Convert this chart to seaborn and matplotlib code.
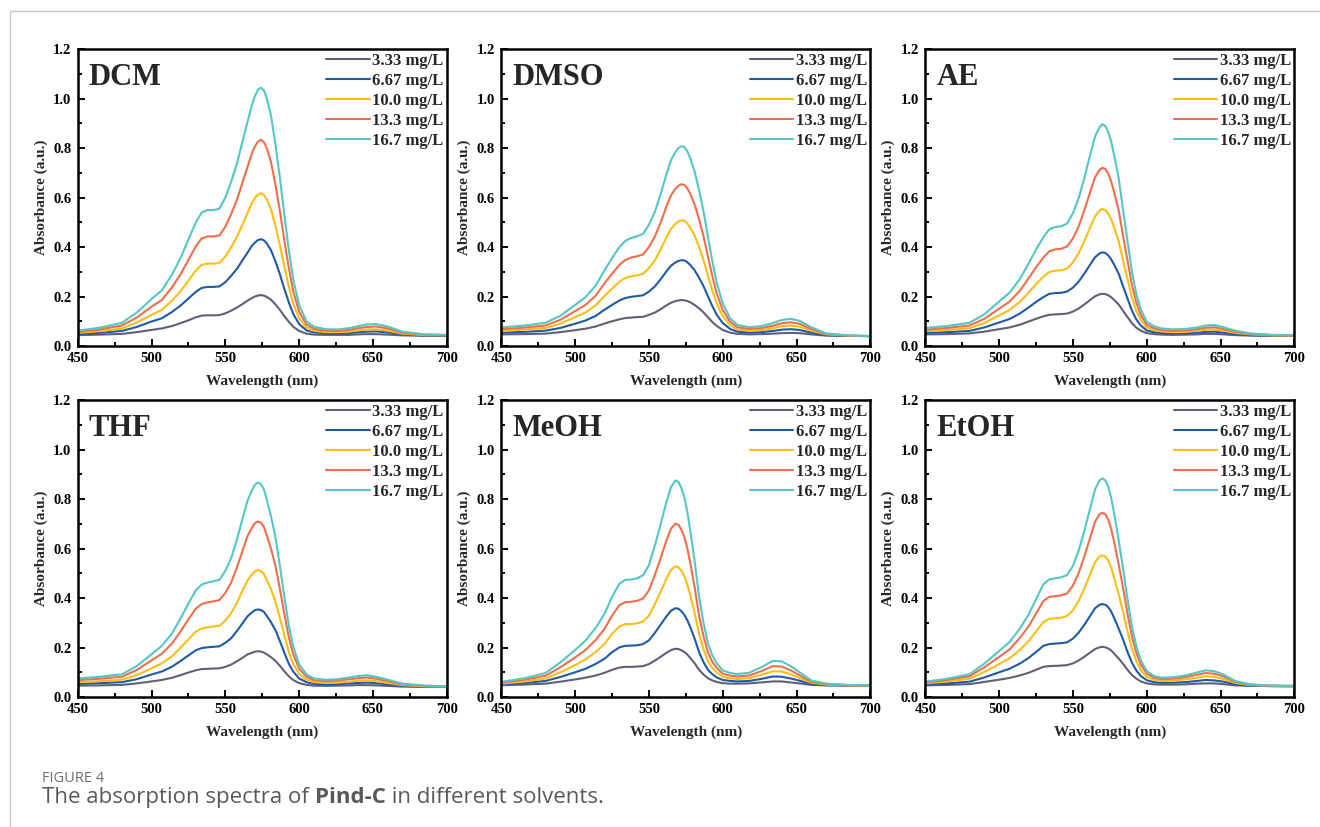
import numpy as np
import pandas as pd
import matplotlib
matplotlib.use("Agg")
import matplotlib.pyplot as plt
from matplotlib.lines import Line2D
from matplotlib.ticker import MultipleLocator, FormatStrFormatter
import seaborn as sns

# Sampled wavelengths (nm), shared by every spectrum
wavelength = [450, 465, 480, 490, 500, 507, 514, 520, 525, 530, 534, 538, 542, 546, 550,
              554, 558, 562, 565, 568, 570, 572, 574, 576, 578, 581, 584, 587, 590, 593,
              596, 600, 605, 610, 618, 626, 634, 640, 646, 652, 660, 670, 685, 700]

concentrations = ["3.33 mg/L", "6.67 mg/L", "10.0 mg/L", "13.3 mg/L", "16.7 mg/L"]
line_colors = ["#5d6179", "#1f5aa8", "#fbbd16", "#f26d4b", "#52c7c6"]

# Absorbance per solvent, one row per concentration (low -> high)
dcm = [
    [0.044, 0.046, 0.049, 0.056, 0.065, 0.071, 0.081, 0.093, 0.104, 0.116, 0.123, 0.124, 0.124, 0.125, 0.132,
     0.143, 0.156, 0.171, 0.183, 0.194, 0.200, 0.204, 0.206, 0.204, 0.199, 0.187, 0.168, 0.146, 0.121, 0.098,
     0.078, 0.061, 0.050, 0.046, 0.045, 0.045, 0.045, 0.047, 0.048, 0.048, 0.046, 0.043, 0.041, 0.041],
    [0.049, 0.053, 0.061, 0.077, 0.099, 0.112, 0.138, 0.165, 0.192, 0.219, 0.235, 0.239, 0.239, 0.241, 0.258,
     0.284, 0.313, 0.350, 0.377, 0.405, 0.418, 0.428, 0.432, 0.428, 0.416, 0.387, 0.342, 0.290, 0.231, 0.177,
     0.130, 0.089, 0.063, 0.055, 0.051, 0.051, 0.052, 0.056, 0.058, 0.059, 0.055, 0.047, 0.043, 0.042],
    [0.053, 0.060, 0.071, 0.095, 0.126, 0.146, 0.184, 0.224, 0.264, 0.305, 0.328, 0.333, 0.333, 0.336, 0.362,
     0.399, 0.443, 0.497, 0.537, 0.578, 0.598, 0.612, 0.618, 0.612, 0.595, 0.552, 0.486, 0.408, 0.322, 0.241,
     0.172, 0.112, 0.075, 0.062, 0.056, 0.056, 0.058, 0.063, 0.067, 0.068, 0.062, 0.050, 0.044, 0.043],
    [0.057, 0.067, 0.083, 0.115, 0.159, 0.186, 0.238, 0.293, 0.348, 0.403, 0.435, 0.443, 0.443, 0.447, 0.482,
     0.534, 0.593, 0.668, 0.723, 0.779, 0.806, 0.826, 0.834, 0.826, 0.802, 0.743, 0.652, 0.546, 0.427, 0.317,
     0.222, 0.139, 0.087, 0.070, 0.062, 0.061, 0.065, 0.072, 0.077, 0.079, 0.071, 0.054, 0.046, 0.044],
    [0.062, 0.074, 0.094, 0.135, 0.190, 0.225, 0.290, 0.360, 0.430, 0.500, 0.540, 0.550, 0.550, 0.555, 0.600,
     0.665, 0.740, 0.835, 0.905, 0.975, 1.010, 1.035, 1.045, 1.035, 1.005, 0.930, 0.815, 0.680, 0.530, 0.390,
     0.270, 0.165, 0.100, 0.078, 0.068, 0.067, 0.072, 0.080, 0.087, 0.089, 0.079, 0.058, 0.047, 0.045],
]

dmso = [
    [0.047, 0.048, 0.050, 0.056, 0.064, 0.070, 0.079, 0.091, 0.100, 0.108, 0.113, 0.115, 0.117, 0.118, 0.126,
     0.135, 0.149, 0.165, 0.175, 0.182, 0.184, 0.186, 0.185, 0.182, 0.177, 0.166, 0.152, 0.136, 0.116, 0.097,
     0.081, 0.065, 0.054, 0.049, 0.047, 0.048, 0.050, 0.052, 0.053, 0.052, 0.047, 0.042, 0.041, 0.040],
    [0.054, 0.057, 0.062, 0.073, 0.090, 0.103, 0.122, 0.147, 0.166, 0.184, 0.194, 0.199, 0.202, 0.205, 0.220,
     0.241, 0.270, 0.303, 0.325, 0.338, 0.344, 0.347, 0.346, 0.339, 0.328, 0.306, 0.276, 0.242, 0.201, 0.161,
     0.126, 0.093, 0.069, 0.058, 0.054, 0.056, 0.061, 0.066, 0.068, 0.065, 0.054, 0.044, 0.041, 0.040],
    [0.061, 0.066, 0.073, 0.090, 0.117, 0.136, 0.165, 0.203, 0.232, 0.260, 0.275, 0.282, 0.286, 0.292, 0.315,
     0.346, 0.391, 0.441, 0.474, 0.494, 0.504, 0.508, 0.507, 0.496, 0.479, 0.446, 0.400, 0.348, 0.285, 0.224,
     0.171, 0.121, 0.084, 0.067, 0.062, 0.064, 0.072, 0.080, 0.083, 0.078, 0.062, 0.047, 0.042, 0.040],
    [0.068, 0.074, 0.083, 0.106, 0.141, 0.166, 0.204, 0.254, 0.292, 0.328, 0.348, 0.358, 0.363, 0.370, 0.400,
     0.442, 0.500, 0.566, 0.610, 0.636, 0.648, 0.654, 0.652, 0.638, 0.616, 0.572, 0.512, 0.444, 0.362, 0.282,
     0.212, 0.146, 0.098, 0.076, 0.069, 0.072, 0.082, 0.092, 0.096, 0.090, 0.069, 0.049, 0.042, 0.040],
    [0.075, 0.082, 0.094, 0.122, 0.166, 0.197, 0.245, 0.307, 0.355, 0.400, 0.425, 0.437, 0.444, 0.453, 0.490,
     0.542, 0.615, 0.697, 0.752, 0.785, 0.800, 0.808, 0.805, 0.788, 0.760, 0.705, 0.630, 0.545, 0.442, 0.342,
     0.255, 0.173, 0.112, 0.085, 0.076, 0.080, 0.093, 0.105, 0.110, 0.102, 0.076, 0.051, 0.043, 0.040],
]

ae = [
    [0.047, 0.048, 0.051, 0.058, 0.068, 0.075, 0.086, 0.099, 0.110, 0.120, 0.126, 0.128, 0.129, 0.131, 0.139,
     0.152, 0.169, 0.188, 0.201, 0.209, 0.211, 0.210, 0.205, 0.197, 0.186, 0.168, 0.142, 0.117, 0.092, 0.074,
     0.062, 0.052, 0.048, 0.046, 0.045, 0.046, 0.047, 0.049, 0.049, 0.047, 0.044, 0.042, 0.041, 0.041],
    [0.053, 0.056, 0.061, 0.075, 0.095, 0.109, 0.131, 0.156, 0.178, 0.198, 0.211, 0.214, 0.215, 0.220, 0.236,
     0.261, 0.295, 0.332, 0.359, 0.374, 0.379, 0.376, 0.366, 0.350, 0.328, 0.293, 0.241, 0.192, 0.143, 0.107,
     0.083, 0.063, 0.056, 0.052, 0.051, 0.051, 0.054, 0.057, 0.058, 0.054, 0.049, 0.044, 0.042, 0.041],
    [0.060, 0.065, 0.072, 0.093, 0.124, 0.145, 0.178, 0.216, 0.250, 0.280, 0.299, 0.305, 0.306, 0.313, 0.338,
     0.376, 0.427, 0.484, 0.524, 0.547, 0.554, 0.550, 0.535, 0.511, 0.478, 0.424, 0.346, 0.271, 0.196, 0.142,
     0.105, 0.075, 0.064, 0.059, 0.056, 0.057, 0.061, 0.066, 0.067, 0.062, 0.053, 0.047, 0.043, 0.042],
    [0.066, 0.073, 0.083, 0.110, 0.151, 0.179, 0.223, 0.274, 0.318, 0.358, 0.383, 0.391, 0.393, 0.402, 0.435,
     0.485, 0.553, 0.628, 0.682, 0.712, 0.721, 0.716, 0.696, 0.664, 0.620, 0.549, 0.445, 0.346, 0.247, 0.175,
     0.126, 0.086, 0.072, 0.065, 0.061, 0.063, 0.068, 0.074, 0.076, 0.069, 0.057, 0.049, 0.044, 0.042],
    [0.073, 0.081, 0.094, 0.128, 0.180, 0.215, 0.270, 0.334, 0.390, 0.440, 0.472, 0.481, 0.484, 0.495, 0.537,
     0.600, 0.685, 0.780, 0.847, 0.885, 0.897, 0.890, 0.865, 0.825, 0.770, 0.680, 0.550, 0.425, 0.300, 0.210,
     0.148, 0.098, 0.080, 0.071, 0.067, 0.069, 0.075, 0.083, 0.085, 0.076, 0.062, 0.051, 0.045, 0.043],
]

thf = [
    [0.046, 0.047, 0.049, 0.055, 0.063, 0.069, 0.078, 0.089, 0.099, 0.108, 0.113, 0.114, 0.115, 0.116, 0.122,
     0.131, 0.145, 0.160, 0.172, 0.179, 0.183, 0.185, 0.184, 0.180, 0.173, 0.161, 0.146, 0.126, 0.104, 0.084,
     0.069, 0.056, 0.049, 0.046, 0.045, 0.046, 0.047, 0.048, 0.048, 0.047, 0.045, 0.042, 0.041, 0.041],
    [0.053, 0.056, 0.060, 0.072, 0.091, 0.103, 0.123, 0.147, 0.168, 0.189, 0.198, 0.201, 0.203, 0.205, 0.219,
     0.238, 0.268, 0.301, 0.326, 0.342, 0.351, 0.354, 0.352, 0.345, 0.329, 0.302, 0.270, 0.226, 0.179, 0.135,
     0.103, 0.075, 0.060, 0.053, 0.051, 0.052, 0.055, 0.057, 0.058, 0.056, 0.051, 0.045, 0.042, 0.042],
    [0.060, 0.064, 0.070, 0.089, 0.116, 0.136, 0.165, 0.201, 0.233, 0.264, 0.277, 0.282, 0.285, 0.288, 0.309,
     0.339, 0.383, 0.434, 0.471, 0.495, 0.508, 0.513, 0.510, 0.499, 0.475, 0.435, 0.386, 0.320, 0.249, 0.183,
     0.134, 0.093, 0.070, 0.060, 0.057, 0.058, 0.062, 0.066, 0.067, 0.064, 0.057, 0.048, 0.043, 0.042],
    [0.068, 0.074, 0.082, 0.109, 0.148, 0.175, 0.217, 0.268, 0.314, 0.357, 0.376, 0.383, 0.387, 0.392, 0.421,
     0.463, 0.526, 0.597, 0.650, 0.684, 0.703, 0.710, 0.706, 0.690, 0.656, 0.599, 0.530, 0.437, 0.336, 0.243,
     0.174, 0.115, 0.082, 0.068, 0.064, 0.066, 0.072, 0.076, 0.079, 0.074, 0.064, 0.051, 0.045, 0.043],
    [0.075, 0.082, 0.092, 0.125, 0.173, 0.207, 0.258, 0.321, 0.378, 0.431, 0.455, 0.463, 0.468, 0.474, 0.510,
     0.562, 0.640, 0.728, 0.793, 0.835, 0.858, 0.867, 0.862, 0.842, 0.800, 0.730, 0.645, 0.530, 0.405, 0.290,
     0.205, 0.132, 0.092, 0.075, 0.070, 0.072, 0.079, 0.085, 0.088, 0.082, 0.070, 0.054, 0.046, 0.044],
]

meoh = [
    [0.048, 0.050, 0.054, 0.062, 0.071, 0.078, 0.087, 0.098, 0.110, 0.119, 0.122, 0.122, 0.123, 0.125, 0.133,
     0.147, 0.163, 0.179, 0.190, 0.195, 0.194, 0.189, 0.182, 0.172, 0.158, 0.136, 0.110, 0.091, 0.076, 0.067,
     0.061, 0.056, 0.054, 0.054, 0.055, 0.059, 0.063, 0.063, 0.059, 0.055, 0.049, 0.047, 0.046, 0.045],
    [0.051, 0.056, 0.065, 0.081, 0.100, 0.114, 0.134, 0.155, 0.181, 0.201, 0.207, 0.208, 0.209, 0.214, 0.229,
     0.259, 0.293, 0.327, 0.349, 0.359, 0.357, 0.347, 0.333, 0.311, 0.283, 0.236, 0.181, 0.141, 0.110, 0.092,
     0.079, 0.069, 0.065, 0.063, 0.065, 0.073, 0.083, 0.082, 0.075, 0.066, 0.053, 0.048, 0.047, 0.046],
    [0.054, 0.062, 0.075, 0.100, 0.129, 0.152, 0.182, 0.215, 0.255, 0.285, 0.295, 0.295, 0.298, 0.305, 0.329,
     0.375, 0.426, 0.480, 0.514, 0.529, 0.525, 0.511, 0.489, 0.455, 0.412, 0.339, 0.255, 0.193, 0.145, 0.117,
     0.098, 0.082, 0.075, 0.073, 0.076, 0.089, 0.104, 0.103, 0.092, 0.077, 0.058, 0.050, 0.047, 0.046],
    [0.058, 0.069, 0.086, 0.120, 0.160, 0.190, 0.231, 0.276, 0.329, 0.371, 0.384, 0.385, 0.389, 0.398, 0.431,
     0.493, 0.562, 0.635, 0.681, 0.701, 0.697, 0.677, 0.648, 0.602, 0.543, 0.444, 0.329, 0.246, 0.180, 0.142,
     0.117, 0.095, 0.086, 0.083, 0.087, 0.104, 0.125, 0.123, 0.108, 0.088, 0.062, 0.052, 0.048, 0.047],
    [0.061, 0.075, 0.097, 0.140, 0.190, 0.228, 0.280, 0.337, 0.405, 0.458, 0.474, 0.475, 0.480, 0.492, 0.533,
     0.612, 0.700, 0.792, 0.850, 0.876, 0.870, 0.845, 0.808, 0.750, 0.675, 0.550, 0.405, 0.300, 0.216, 0.168,
     0.136, 0.108, 0.097, 0.093, 0.098, 0.120, 0.146, 0.144, 0.125, 0.100, 0.067, 0.054, 0.049, 0.047],
]

etoh = [
    [0.047, 0.049, 0.052, 0.061, 0.070, 0.077, 0.087, 0.098, 0.110, 0.122, 0.125, 0.126, 0.127, 0.129, 0.136,
     0.148, 0.164, 0.181, 0.194, 0.201, 0.203, 0.201, 0.196, 0.188, 0.175, 0.156, 0.134, 0.110, 0.089, 0.074,
     0.063, 0.055, 0.051, 0.050, 0.050, 0.051, 0.054, 0.055, 0.055, 0.052, 0.047, 0.045, 0.044, 0.043],
    [0.051, 0.055, 0.062, 0.079, 0.100, 0.114, 0.135, 0.158, 0.182, 0.207, 0.214, 0.216, 0.218, 0.221, 0.236,
     0.261, 0.294, 0.331, 0.359, 0.373, 0.376, 0.373, 0.363, 0.345, 0.319, 0.277, 0.232, 0.182, 0.139, 0.107,
     0.085, 0.068, 0.060, 0.057, 0.058, 0.060, 0.065, 0.069, 0.067, 0.062, 0.052, 0.046, 0.044, 0.044],
    [0.055, 0.063, 0.074, 0.101, 0.133, 0.156, 0.190, 0.226, 0.265, 0.303, 0.316, 0.318, 0.321, 0.327, 0.350,
     0.390, 0.443, 0.501, 0.545, 0.568, 0.573, 0.568, 0.551, 0.523, 0.482, 0.416, 0.344, 0.265, 0.196, 0.145,
     0.109, 0.082, 0.070, 0.065, 0.066, 0.071, 0.078, 0.084, 0.081, 0.073, 0.057, 0.048, 0.045, 0.044],
    [0.059, 0.069, 0.084, 0.120, 0.162, 0.192, 0.238, 0.286, 0.337, 0.388, 0.405, 0.408, 0.411, 0.419, 0.450,
     0.503, 0.573, 0.650, 0.709, 0.739, 0.745, 0.739, 0.717, 0.679, 0.625, 0.537, 0.441, 0.337, 0.245, 0.178,
     0.131, 0.095, 0.078, 0.072, 0.074, 0.080, 0.090, 0.097, 0.094, 0.083, 0.061, 0.050, 0.046, 0.045],
    [0.062, 0.074, 0.092, 0.135, 0.186, 0.222, 0.276, 0.334, 0.395, 0.456, 0.476, 0.480, 0.484, 0.493, 0.530,
     0.594, 0.678, 0.770, 0.840, 0.876, 0.884, 0.876, 0.850, 0.805, 0.740, 0.635, 0.520, 0.395, 0.285, 0.205,
     0.148, 0.105, 0.085, 0.078, 0.080, 0.087, 0.099, 0.108, 0.104, 0.091, 0.065, 0.051, 0.046, 0.045],
]

solvents = ["DCM", "DMSO", "AE", "THF", "MeOH", "EtOH"]
spectra = [dcm, dmso, ae, thf, meoh, etoh]


def to_frame(block):
    rows = []
    for conc, values in zip(concentrations, block):
        for wl, a in zip(wavelength, values):
            rows.append({"Wavelength": wl, "Absorbance": a, "Concentration": conc})
    return pd.DataFrame(rows)


sns.set_theme(style="white")
plt.rcParams["font.family"] = ["Liberation Serif", "DejaVu Serif"]
plt.rcParams["font.weight"] = "bold"

W, H = 1320, 827
fig = plt.figure(figsize=(W / 100, H / 100), dpi=100)

lefts = [77.7, 501.3, 925.3]
tops = [49.3, 400.3]
ax_w, ax_h = 369.0, 296.7

for i, (name, block) in enumerate(zip(solvents, spectra)):
    r, c = divmod(i, 3)
    ax = fig.add_axes([lefts[c] / W, 1 - (tops[r] + ax_h) / H, ax_w / W, ax_h / H])
    df = to_frame(block)
    sns.lineplot(data=df, x="Wavelength", y="Absorbance", hue="Concentration",
                 hue_order=concentrations, palette=line_colors, linewidth=1.5,
                 ax=ax, legend=True)
    ax.set_xlim(450, 700)
    ax.set_ylim(0, 1.2)
    ax.xaxis.set_major_locator(MultipleLocator(50))
    ax.xaxis.set_minor_locator(MultipleLocator(25))
    ax.yaxis.set_major_locator(MultipleLocator(0.2))
    ax.yaxis.set_minor_locator(MultipleLocator(0.1))
    ax.yaxis.set_major_formatter(FormatStrFormatter("%.1f"))
    ax.tick_params(which="both", direction="in", top=False, right=False,
                   bottom=True, left=True, width=1.4, colors="black")
    ax.tick_params(which="major", length=5, labelsize=10.5, pad=4.5)
    ax.tick_params(which="minor", length=3)
    for lab in ax.get_xticklabels() + ax.get_yticklabels():
        lab.set_fontweight("bold")
    for sp in ax.spines.values():
        sp.set_linewidth(1.8)
        sp.set_color("black")
    ax.set_xlabel("Wavelength (nm)", fontsize=11, fontweight="bold", labelpad=7)
    ax.set_ylabel("Absorbance (a.u.)", fontsize=11, fontweight="bold", labelpad=4)
    ax.text(0.03, 0.955, name, transform=ax.transAxes, fontsize=22,
            fontweight="bold", va="top", ha="left")
    handles, labels = ax.get_legend_handles_labels()
    ax.legend(handles, labels, loc="upper right", frameon=False,
              prop={"size": 12, "weight": "bold"}, handlelength=2.6,
              handletextpad=0.15, labelspacing=0.25, borderaxespad=0.1,
              borderpad=0.1)

# Page frame lines
fig.add_artist(Line2D([10 / W, 1], [1 - 11 / H, 1 - 11 / H], color="#c9c9c9", lw=1))
fig.add_artist(Line2D([10 / W, 10 / W], [0, 1 - 11 / H], color="#c9c9c9", lw=1))

# Caption
cap_font = ["Open Sans", "DejaVu Sans"]
fig.text(42 / W, 1 - 782 / H, "FIGURE 4", fontsize=10.5, color="#6d6e70",
         family=cap_font, fontweight="normal", va="baseline")
cap_y = 1 - 803 / H
t1 = fig.text(42 / W, cap_y, "The absorption spectra of ", fontsize=16, color="#58595b",
              family=cap_font, fontweight="normal", va="baseline")
fig.canvas.draw()
renderer = fig.canvas.get_renderer()
bb = t1.get_window_extent(renderer)
t2 = fig.text(bb.x1 / W, cap_y, "Pind-C", fontsize=16, color="#58595b",
              family=cap_font, fontweight="bold", va="baseline")
bb2 = t2.get_window_extent(renderer)
fig.text(bb2.x1 / W, cap_y, " in different solvents.", fontsize=16, color="#58595b",
         family=cap_font, fontweight="normal", va="baseline")

fig.savefig("out.png", dpi=100)
